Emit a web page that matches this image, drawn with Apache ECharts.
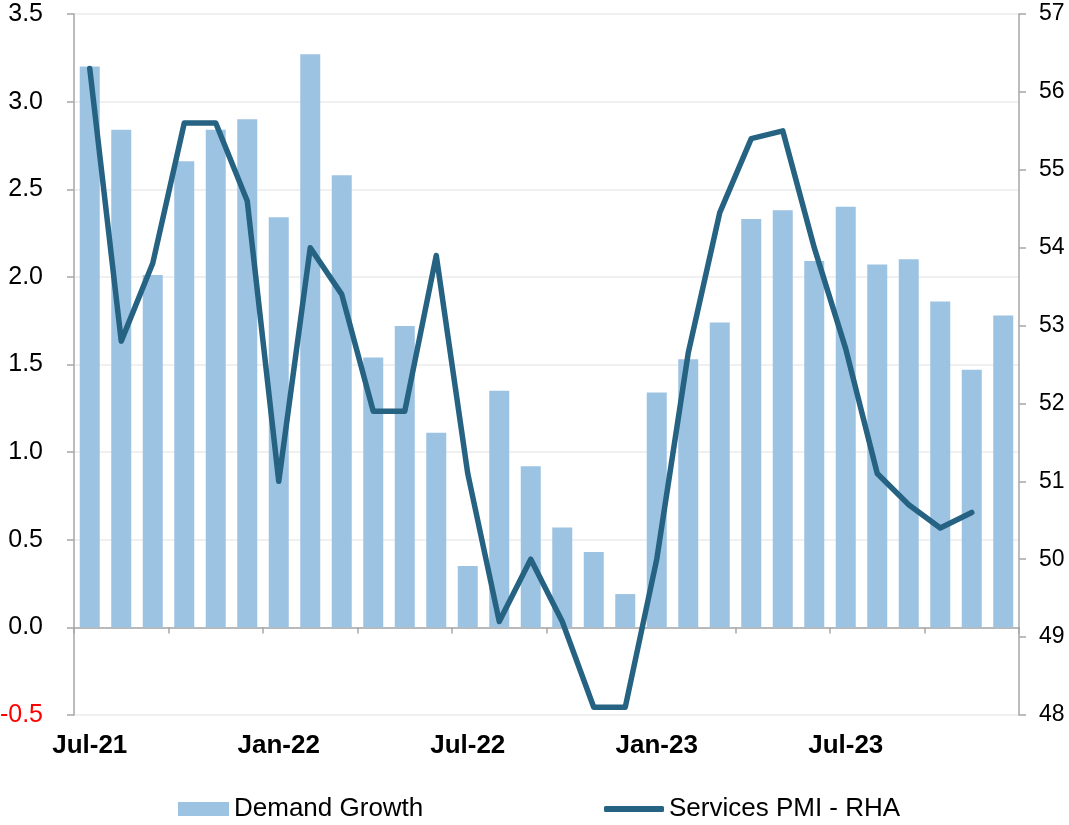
<!DOCTYPE html>
<html>
<head>
<meta charset="utf-8">
<script src="https://cdn.jsdelivr.net/npm/echarts@6/dist/echarts.min.js"></script>
<style>
html,body{margin:0;padding:0;background:#fff;}
#chart{width:1069px;height:825px;}
</style>
</head>
<body>
<div id="chart"></div>
<script>
const categories = [
  'Jul-21','Aug-21','Sep-21','Oct-21','Nov-21','Dec-21',
  'Jan-22','Feb-22','Mar-22','Apr-22','May-22','Jun-22',
  'Jul-22','Aug-22','Sep-22','Oct-22','Nov-22','Dec-22',
  'Jan-23','Feb-23','Mar-23','Apr-23','May-23','Jun-23',
  'Jul-23','Aug-23','Sep-23','Oct-23','Nov-23','Dec-23'
];
const demandGrowth = [
  3.20, 2.84, 2.01, 2.66, 2.84, 2.90,
  2.34, 3.27, 2.58, 1.54, 1.72, 1.11,
  0.35, 1.35, 0.92, 0.57, 0.43, 0.19,
  1.34, 1.53, 1.74, 2.33, 2.38, 2.09,
  2.40, 2.07, 2.10, 1.86, 1.47, 1.78
];
const servicesPMI = [
  56.3, 52.8, 53.8, 55.6, 55.6, 54.6,
  51.0, 54.0, 53.4, 51.9, 51.9, 53.9,
  51.1, 49.2, 50.0, 49.2, 48.1, 48.1,
  50.0, 52.65, 54.45, 55.4, 55.5, 54.0,
  52.7, 51.1, 50.7, 50.4, 50.6, null
];
const leftTicks = { min: -0.5, max: 3.5, interval: 0.5 };
const rightTicks = { min: 48, max: 57, interval: 1 };

const BAR = '#9DC3E3';
const LINE = '#266282';
const AXIS = '#A6A6A6';
const FONT = '"Liberation Sans", Arial, sans-serif';

const chart = echarts.init(document.getElementById('chart'));
chart.setOption({
  animation: false,
  backgroundColor: '#fff',
  grid: { left: 74, right: 50, top: 14, bottom: 110, containLabel: false, outerBoundsMode: 'none' },
  legend: [
    {
      data: [{ name: 'Demand Growth', icon: 'rect' }],
      left: 178, top: 796, padding: 0,
      itemWidth: 51, itemHeight: 14,
      textStyle: { fontFamily: FONT, fontSize: 26, color: '#000' },
      selectedMode: false
    },
    {
      data: [{ name: 'Services PMI - RHA', icon: 'roundRect' }],
      left: 604, top: 796, padding: 0,
      itemWidth: 60, itemHeight: 6,
      textStyle: { fontFamily: FONT, fontSize: 26, color: '#000' },
      selectedMode: false
    }
  ],
  xAxis: [
    {
      type: 'category',
      data: categories,
      position: 'bottom',
      axisLine: { show: false, onZero: false },
      axisTick: { show: false },
      axisLabel: {
        interval: 5,
        margin: 18,
        fontFamily: FONT, fontSize: 26, fontWeight: 'bold', color: '#000'
      },
      splitLine: { show: false }
    },
    {
      type: 'category',
      data: categories,
      position: 'bottom',
      axisLine: { show: true, onZero: true, onZeroAxisIndex: 0, lineStyle: { color: AXIS, width: 1.5 } },
      axisTick: { show: true, interval: function (i) { return i % 3 === 0; }, length: 6, lineStyle: { color: AXIS, width: 1.5 } },
      axisLabel: { show: false },
      splitLine: { show: false }
    }
  ],
  yAxis: [
    {
      type: 'value',
      position: 'left',
      min: leftTicks.min, max: leftTicks.max, interval: leftTicks.interval,
      axisLine: { show: true, lineStyle: { color: AXIS, width: 1.5 } },
      axisTick: { show: true, length: 7, lineStyle: { color: AXIS, width: 1.5 } },
      axisLabel: {
        margin: 31,
        fontFamily: FONT, fontSize: 25,
        formatter: function (v) { return v.toFixed(1); },
        color: function (v) { return Number(v) < 0 ? '#FF0000' : '#000'; }
      },
      splitLine: { show: true, lineStyle: { color: '#EBEBEB', width: 1.5 } }
    },
    {
      type: 'value',
      position: 'right',
      min: rightTicks.min, max: rightTicks.max, interval: rightTicks.interval,
      axisLine: { show: true, lineStyle: { color: AXIS, width: 1.5 } },
      axisTick: { show: true, length: 7, lineStyle: { color: AXIS, width: 1.5 } },
      axisLabel: { margin: 20, fontFamily: FONT, fontSize: 23, color: '#000' },
      splitLine: { show: false }
    }
  ],
  series: [
    {
      name: 'Demand Growth',
      type: 'bar',
      xAxisIndex: 0, yAxisIndex: 0,
      data: demandGrowth,
      barWidth: 20,
      itemStyle: { color: BAR },
      z: 2
    },
    {
      name: 'Services PMI - RHA',
      type: 'line',
      xAxisIndex: 0, yAxisIndex: 1,
      data: servicesPMI,
      showSymbol: false, symbol: 'none',
      lineStyle: { color: LINE, width: 5.5, cap: 'round', join: 'round' },
      itemStyle: { color: LINE },
      z: 4
    }
  ]
});
</script>
</body>
</html>
